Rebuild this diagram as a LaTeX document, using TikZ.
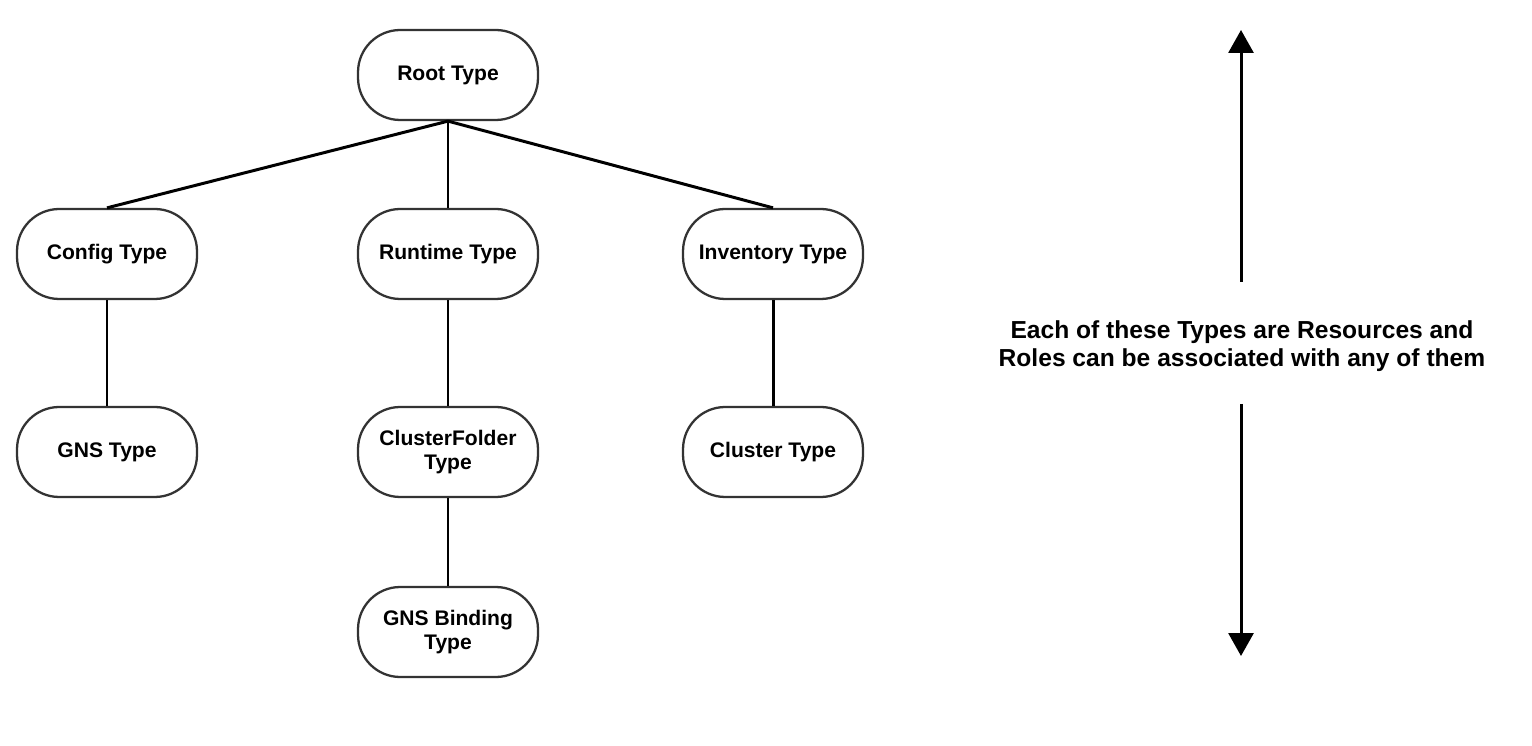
\documentclass[tikz,border=0pt]{standalone}
\usepackage{fontspec}
\setmainfont{Liberation Sans}
\usetikzlibrary{arrows.meta}

\tikzset{
  typebox/.style={draw=black!80, line width=1.3pt, rounded corners=24pt,
    minimum width=3.6cm, minimum height=1.8cm, inner sep=0pt, align=center,
    font=\fontsize{12}{14}\selectfont\bfseries},
  link/.style={line width=1.7pt},
  notetext/.style={align=center, font=\fontsize{14}{16}\selectfont\bfseries},
}

\begin{document}
\begin{tikzpicture}[x=0.02cm,y=-0.02cm]
        \useasboundingbox (0,0) rectangle (1532,746);

        % Top of the hierarchy
        \node[typebox] (root) at (448,75) {Root Type};

        % Second level
        \node[typebox] (config)    at (107,254) {Config Type};
        \node[typebox] (runtime)   at (448,254) {Runtime Type};
        \node[typebox] (inventory) at (773,254) {Inventory Type};

        % Third and fourth level
        \node[typebox] (gns)     at (107,452) {GNS Type};
        \node[typebox] (folder)  at (448,452) {ClusterFolder\\Type};
        \node[typebox] (cluster) at (773,452) {Cluster Type};
        \node[typebox] (binding) at (448,632) {GNS Binding\\Type};

        % Tree edges
        \draw[link] (root.south) -- (config.north);
        \draw[link] (root.south) -- (runtime.north);
        \draw[link] (root.south) -- (inventory.north);
        \draw[link] (config.south) -- (gns.north);
        \draw[link] (runtime.south) -- (folder.north);
        \draw[link] (inventory.south) -- (cluster.north);
        \draw[link] (folder.south) -- (binding.north);

        % Side note spanning the whole tree
        \node[notetext] (note) at (1242,346) {Each of these Types are Resources and\\Roles can be associated with any of them};
        \coordinate (upfrom) at (1241,282);
        \coordinate (uptip) at (1241,30);
        \coordinate (downfrom) at (1241,404);
        \coordinate (downtip) at (1241,656);
        \draw[link,-{Triangle[length=0.46cm,width=0.5cm]}] (upfrom) -- (uptip);
        \draw[link,-{Triangle[length=0.46cm,width=0.5cm]}] (downfrom) -- (downtip);
\end{tikzpicture}
\end{document}
